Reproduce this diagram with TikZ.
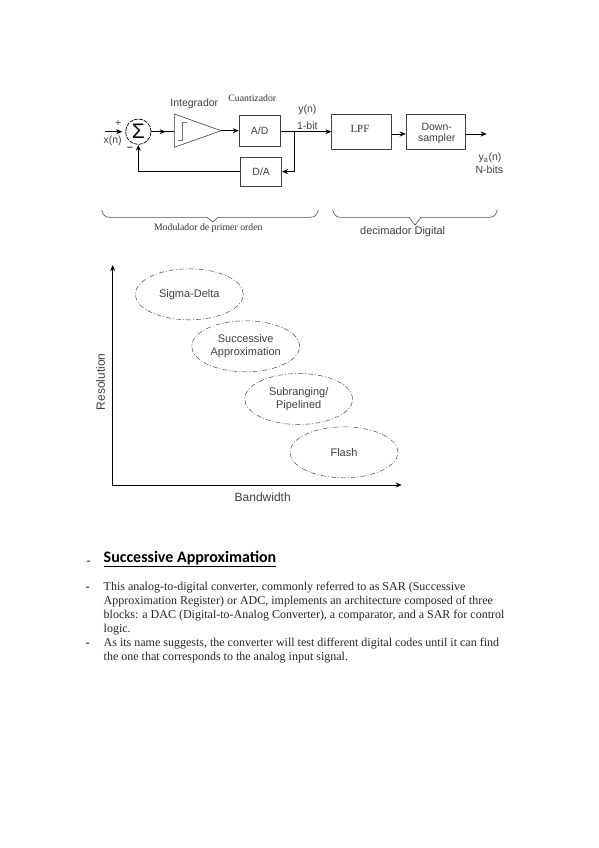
\documentclass[tikz,border=0pt]{standalone}
\usepackage{fontspec}
\setmainfont{Liberation Serif}
\setsansfont{Liberation Sans}
\newfontfamily\headfont{Carlito}
\usetikzlibrary{arrows.meta,decorations.markings,shapes.geometric}
\tikzset{
	block/.style={draw=black!75,line width=.7pt,minimum width=#1,inner sep=0pt},
	sanslabel/.style={font=\sffamily\fontsize{10.5}{11}\selectfont,text=black!75,inner sep=0pt,align=center},
	biglabel/.style={font=\sffamily\fontsize{#1}{13.5}\selectfont,text=black!75,inner sep=0pt,align=center},
	seriflabel/.style={font=\fontsize{9.8}{11}\selectfont,text=black!80,inner sep=0pt,align=center},
	bodytext/.style={font=\fontsize{12}{14}\selectfont,text=black!85,inner sep=0pt,anchor=north west,align=left},
	dashmark/.style={font=\fontsize{12}{14}\selectfont,inner sep=0pt,anchor=base west},
	region/.style={draw=black!70,dash pattern=on 5pt off 2pt on 1pt off 2pt,line width=.5pt,ellipse,minimum width=108pt,minimum height=51pt,inner sep=0pt},
	wire/.style={line width=.8pt},
	brace/.style={draw=black!70,line width=.6pt},
	midtip/.style={decoration={markings,mark=at position #1 with {\arrow{Stealth[length=6pt,width=5pt]}}},postaction={decorate}}
}
\begin{document}
\begin{tikzpicture}[>={Stealth[length=6pt,width=5pt]},line join=round,x=1pt,y=-1pt]
	\useasboundingbox[fill=white] (0,0) rectangle (599,848);
	% modulator
	\coordinate (in) at (105,131.7);
	\node[draw=black,dash pattern=on 4pt off 1pt,line width=.7pt,circle,minimum size=25.5pt,inner sep=0pt,font=\sffamily\fontsize{21}{21}\selectfont] (sum) at (138.3,131.7) {Σ};
	\coordinate (triA) at (174.3,114);
	\coordinate (triB) at (174.3,147.3);
	\coordinate (triC) at (221,130.7);
	\draw[draw=black!75,line width=.6pt] (triA)--(triC)--(triB)--cycle;
	\draw[draw=black!55,line width=1pt] (178,140.7)--(182.7,140.7)--(182.7,122.7)--(187,122.7);
	\node[block=41pt,minimum height=31.7pt] (ad) at (259.7,130.8) {};
	\node[sanslabel] at (ad) {A/D};
	\node[block=41pt,minimum height=28.7pt] (da) at (261.2,171.6) {};
	\node[sanslabel] at (da) {D/A};
	\node[block=60pt,minimum height=35.3pt] (lpf) at (361.7,131.7) {};
	\node[seriflabel,font=\fontsize{11}{11}\selectfont] at (360,129.3) {LPF};
	\node[block=59.3pt,minimum height=35.3pt] (down) at (435.7,131.7) {};
	\node[sanslabel] at (436.7,133) {Down-\\sampler};
	\coordinate (out) at (486.7,134);
	\coordinate (split) at (294.3,131.7);
	\draw[wire,->,shorten >=3pt] (in) -- (sum);
	\draw[wire,midtip=.62] (sum) -- (triA|-sum);
	\draw[wire,->] (triC) -- (ad.west|-triC);
	\draw[wire,->] (ad.east|-split) -- (lpf.west|-split);
	\draw[wire,->] (split) -- (split|-da) -- (da);
	\draw[wire,->] (da) -| (sum);
	\draw[wire,->] (lpf.east|-out) -- (down.west|-out);
	\draw[wire,->] (down.east|-out) -- (out);
	% labels
	\node[sanslabel] (plus) at (118.3,123) {+};
	\node[sanslabel] (xn) at (112.7,140.7) {x(n)};
	\node[sanslabel] (minus) at (130,149.3) {\textbf{--}};
	\node[sanslabel] (integrador) at (194.3,103.3) {Integrador};
	\node[seriflabel] (cuant) at (252.3,98.3) {Cuantizador};
	\node[sanslabel] (yn) at (307.3,110) {y(n)};
	\node[sanslabel] (bit) at (307.3,125.7) {1-bit};
	\node[sanslabel] (ya) at (490,157.7) {y\textsubscript{a}(n)};
	\node[sanslabel] (nbits) at (489.3,169.3) {N-bits};
	% braces
	\draw[brace] (101.7,210) .. controls (103,215) and (105,217.3) .. (110,217.3) -- (207,217.3) -- (212.7,222) -- (218,217.3) -- (310,217.3) .. controls (315,217.3) and (317,215) .. (318.3,210);
	\draw[brace] (332.7,210) .. controls (334,215) and (336,217.3) .. (341,217.3) -- (409,217.3) -- (415,225) -- (421,217.3) -- (489,217.3) .. controls (494,217.3) and (496,215) .. (497.3,210);
	\node[seriflabel] (modulador) at (208.3,227.7) {Modulador de primer orden};
	\node[biglabel=11] (decimador) at (402.7,231.7) {decimador Digital};
	% resolution vs bandwidth
	\coordinate (origin) at (112.7,485);
	\coordinate (ytop) at (112.7,265);
	\coordinate (xend) at (401.7,485);
	\draw[wire,<->] (ytop) -- (origin) -- (xend);
	\node[biglabel=12] (bandwidth) at (262.7,497.3) {Bandwidth};
	\node[biglabel=12,rotate=90] (resolution) at (100.7,381.7) {Resolution};
	\node[region] (sigma) at (189.3,294.3) {};
	\node[region] (succ) at (245.7,346.3) {};
	\node[region] (sub) at (298.7,399) {};
	\node[region] (flash) at (344,452.3) {};
	\node[biglabel=11] at (sigma) {Sigma-Delta};
	\node[biglabel=11] at (succ) {Successive\\Approximation};
	\node[biglabel=11] at (sub) {Subranging/\\Pipelined};
	\node[biglabel=11] at (flash) {Flash};
	% text below
	\node[dashmark] (dashA) at (86.5,564) {-};
	\node[inner sep=0pt,anchor=west,font=\headfont\bfseries\fontsize{16}{18}\selectfont] (heading) at (103.5,559) {\underline{Successive Approximation}};
	\node[dashmark] (dashB) at (85.5,590) {-};
	\node[bodytext] (paraA) at (103.5,582) {This analog-to-digital converter, commonly referred to as SAR (Successive\\Approximation Register) or ADC, implements an architecture composed of three\\blocks: a DAC (Digital-to-Analog Converter), a comparator, and a SAR for control\\logic.};
	\node[dashmark] (dashC) at (85.5,646) {-};
	\node[bodytext] (paraB) at (103.5,638) {As its name suggests, the converter will test different digital codes until it can find\\the one that corresponds to the analog input signal.};
\end{tikzpicture}
\end{document}
